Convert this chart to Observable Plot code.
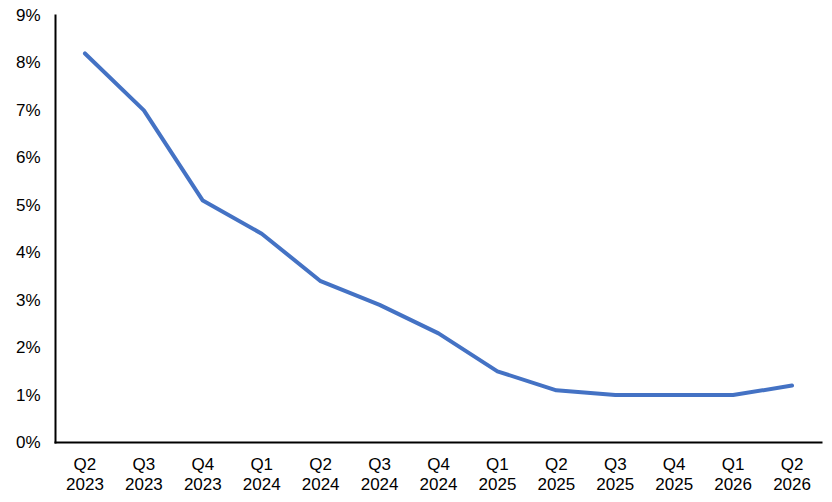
<!DOCTYPE html>
<html><head><meta charset="utf-8">
<script src="https://cdn.jsdelivr.net/npm/d3@7"></script>
<script src="https://cdn.jsdelivr.net/npm/@observablehq/plot@0.6"></script>
<style>body{margin:0;background:#fff;} svg{display:block;}</style>
</head><body><div id="chart"></div>
<script>
const quarters = ["Q2 2023","Q3 2023","Q4 2023","Q1 2024","Q2 2024","Q3 2024","Q4 2024","Q1 2025","Q2 2025","Q3 2025","Q4 2025","Q1 2026","Q2 2026"];
const values = [8.2, 7.0, 5.1, 4.4, 3.4, 2.9, 2.3, 1.5, 1.1, 1.0, 1.0, 1.0, 1.2];
const yTicks = [0,1,2,3,4,5,6,7,8,9];
const data = quarters.map((q,i)=>({q, v: values[i]/100}));
const chart = Plot.plot({
  width: 832, height: 502,
  marginLeft: 55, marginRight: 11, marginTop: 15, marginBottom: 60,
  style: {fontFamily: "'Liberation Sans', Arial, sans-serif", fontSize: "17px", color: "#000", background: "#fff"},
  x: {type: "point", domain: quarters, padding: 0.5, round: false, label: null},
  y: {domain: [0, 0.09], label: null},
  marks: [
    Plot.axisX({tickSize: 0, tickPadding: 13, tickFormat: d => d.replace(" ", "\n"), lineHeight: 1.2, fontSize: 17, fill: "#000"}),
    Plot.axisY({ticks: yTicks.map(d=>d/100), tickSize: 0, tickPadding: 15, tickFormat: d => Math.round(d*100) + "%", fontSize: 17, fill: "#000"}),
    Plot.line(data, {x: "q", y: "v", stroke: "#4472C4", strokeWidth: 4, strokeLinejoin: "round", strokeLinecap: "round"}),
    Plot.frame({anchor: "left", stroke: "#000", strokeWidth: 2}),
    Plot.frame({anchor: "bottom", stroke: "#000", strokeWidth: 2})
  ]
});
document.getElementById("chart").appendChild(chart);
</script></body></html>
